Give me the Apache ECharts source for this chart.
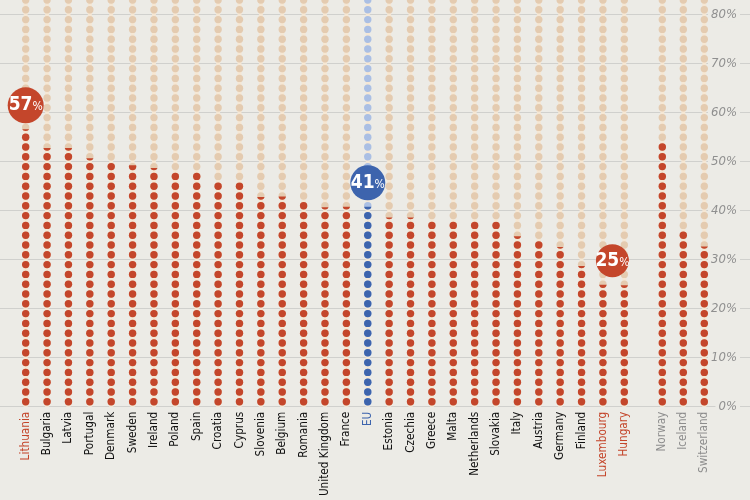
<!DOCTYPE html>
<html>
<head>
<meta charset="UTF-8">
<title>Dot columns</title>
<style>
    html, body { margin: 0; padding: 0; background: #ecebe6; }
    #chartArea { width: 750px; height: 500px; }
</style>
</head>
<body>
<div id="chartArea"></div>
<script src="https://cdn.jsdelivr.net/npm/echarts@6/dist/echarts.min.js"></script>
<script>
// values, in %
var euCountries = ['Lithuania', 'Bulgaria', 'Latvia', 'Portugal', 'Denmark', 'Sweden', 'Ireland',
    'Poland', 'Spain', 'Croatia', 'Cyprus', 'Slovenia', 'Belgium', 'Romania', 'United Kingdom',
    'France', 'EU', 'Estonia', 'Czechia', 'Greece', 'Malta', 'Netherlands', 'Slovakia', 'Italy',
    'Austria', 'Germany', 'Finland', 'Luxembourg', 'Hungary'];
var euValues = [56.6, 52.8, 52.8, 50.7, 50, 49.3, 48.7,
    48, 47.9, 46, 45.8, 42.8, 42.9, 42, 40.7,
    40.8, 40.8, 38.6, 38.6, 38, 38, 38, 37.8, 34.8,
    34, 32.6, 28.7, 24.9, 24.8];
var eftaCountries = ['Norway', 'Iceland', 'Switzerland'];
var eftaValues = [54, 36, 32.7];
var bubbleCountries = ['Lithuania', 'EU', 'Luxembourg'];
var redLabels = ['Lithuania', 'Luxembourg', 'Hungary'];

var BG = '#ecebe6', RED = '#c4462b', TAN = '#e4cbb0', BLUE = '#3d64ad', LIGHTBLUE = '#aabfe4', STRIP = '#f5e7d4';
var FONT = "'Liberation Sans Narrow', 'DejaVu Sans Condensed', sans-serif";
var bubbleStyle = {
    'Lithuania': { size: 36, offset: [0, -24] },
    'EU': { size: 35, offset: [0, -24] },
    'Luxembourg': { size: 33, offset: [9.5, -24] }
};

function labelColor(name) {
    if (name === 'EU') return BLUE;
    if (redLabels.indexOf(name) >= 0) return RED;
    if (eftaCountries.indexOf(name) >= 0) return '#8d8d8d';
    return '#111111';
}

function dotSeries(idx, names, values) {
    var back = values.map(function (v, i) {
        return { value: v, itemStyle: { color: names[i] === 'EU' ? LIGHTBLUE : TAN } };
    });
    var front = values.map(function (v, i) {
        return { value: v, itemStyle: { color: names[i] === 'EU' ? BLUE : RED } };
    });
    var marks = [];
    names.forEach(function (n, i) {
        if (bubbleCountries.indexOf(n) < 0) return;
        marks.push({
            coord: [n, values[i]],
            value: Math.round(values[i]),
            symbolSize: bubbleStyle[n].size,
            symbolOffset: bubbleStyle[n].offset,
            itemStyle: { color: n === 'EU' ? BLUE : RED }
        });
    });
    var dots = {
        type: 'pictorialBar', xAxisIndex: idx, yAxisIndex: idx,
        symbol: 'circle', symbolSize: [7.4, 7.4],
        symbolRepeat: 50, symbolMargin: '1!', symbolBoundingData: 100,
        silent: true
    };
    return [
        {
            type: 'bar', xAxisIndex: idx, yAxisIndex: idx, barWidth: 4, data: values,
            itemStyle: { color: STRIP }, showBackground: true, backgroundStyle: { color: STRIP },
            silent: true, z: 1
        },
        Object.assign({}, dots, { data: back, z: 2 }),
        Object.assign({}, dots, {
            data: front, symbolClip: true, z: 3,
            markPoint: {
                symbol: 'circle', silent: true, data: marks,
                label: {
                    formatter: '{a|{c}}{b|%}',
                    rich: {
                        a: { color: '#fff', fontSize: 19, fontWeight: 'bold', fontFamily: FONT },
                        b: { color: '#fff', fontSize: 12, fontFamily: FONT, padding: [4, 0, 0, 0] }
                    }
                }
            }
        })
    ];
}

function catAxis(idx, names) {
    return {
        type: 'category', gridIndex: idx, data: names,
        axisLine: { show: false }, axisTick: { show: false },
        axisLabel: {
            rotate: 90, margin: 5, interval: 0,
            fontSize: 11.7, fontFamily: FONT,
            color: function (v) { return labelColor(v); }
        }
    };
}

var myChart = echarts.init(document.getElementById('chartArea'));
myChart.setOption({
    backgroundColor: BG,
    animation: false,
    grid: [
        { left: 15, right: 115, top: -83.3, bottom: 93.3, outerBoundsMode: 'none' },
        { left: 651.8, right: 35.2, top: -83.3, bottom: 93.3, outerBoundsMode: 'none' },
        { left: 0, right: 0, top: -83.3, bottom: 93.3, outerBoundsMode: 'none' }
    ],
    xAxis: [
        catAxis(0, euCountries),
        catAxis(1, eftaCountries),
        { type: 'value', gridIndex: 2, show: false }
    ],
    yAxis: [
        { type: 'value', gridIndex: 0, min: 0, max: 100, show: false },
        { type: 'value', gridIndex: 1, min: 0, max: 100, show: false },
        {
            type: 'value', gridIndex: 2, min: 0, max: 100, interval: 10, position: 'right',
            axisLine: { show: false }, axisTick: { show: false },
            splitLine: { lineStyle: { color: '#d0d0cd', width: 1 } },
            axisLabel: {
                inside: true, margin: 10, formatter: '{value}%',
                fontStyle: 'italic', fontSize: 13, fontFamily: FONT, color: '#8f8f8f',
                backgroundColor: BG, padding: [0, 3]
            }
        }
    ],
    series: dotSeries(0, euCountries, euValues).concat(dotSeries(1, eftaCountries, eftaValues))
});
</script>
</body>
</html>
